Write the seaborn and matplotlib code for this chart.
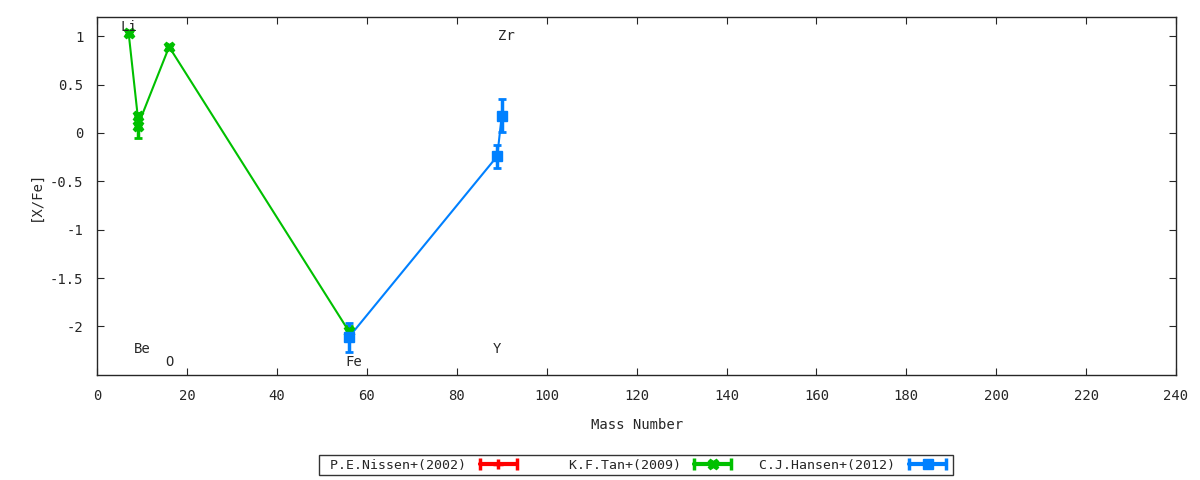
import seaborn as sns
import matplotlib.pyplot as plt
from matplotlib.lines import Line2D
from matplotlib.legend_handler import HandlerLine2D, HandlerTuple

# Tan+(2009)
tan_mass = [7, 9, 9, 16, 56]
tan_xfe = [1.03, 0.18, 0.07, 0.89, -2.05]
tan_err = [0.02, 0.03, 0.12, 0.02, 0.05]

# Hansen+(2012)
hansen_mass = [56, 89, 90]
hansen_xfe = [-2.11, -0.24, 0.18]
hansen_err = [0.15, 0.12, 0.17]

# Nissen+(2002) - nothing in range
nissen_mass = []
nissen_xfe = []

element_names = ["Li", "Be", "O", "Fe", "Y", "Zr"]
element_mass = [7, 10, 16, 57, 89, 91]
element_label_y = [1.09, -2.23, -2.37, -2.37, -2.23, 1.0]

legend_labels = [" P.E.Nissen+(2002)", "    K.F.Tan+(2009)", " C.J.Hansen+(2012)"]

RED, GREEN, BLUE = "#ff0000", "#00c000", "#0080ff"

sns.set_style("ticks")
plt.rcParams["font.family"] = ["DejaVu Sans Mono"]
plt.rcParams["font.size"] = 9.5

fig = plt.figure(figsize=(12, 4.8), dpi=100)
ax = fig.add_axes([0.081, 0.219, 0.899, 0.746])

sns.lineplot(x=tan_mass, y=tan_xfe, ax=ax, color=GREEN, lw=1.5,
             estimator=None, sort=False)
ax.errorbar(tan_mass, tan_xfe, yerr=tan_err, fmt="X", color=GREEN, ms=7.5,
            elinewidth=2.5, capsize=3, capthick=2)
sns.lineplot(x=hansen_mass, y=hansen_xfe, ax=ax, color=BLUE, lw=1.5,
             estimator=None, sort=False)
ax.errorbar(hansen_mass, hansen_xfe, yerr=hansen_err, fmt="s", color=BLUE, ms=7.5,
            elinewidth=2.5, capsize=3, capthick=2)

for name, m, ly in zip(element_names, element_mass, element_label_y):
    ax.text(m, ly, name, ha="center", va="center", fontsize=10)

ax.set_xlim(0, 240)
ax.set_ylim(-2.5, 1.2)
ax.set_xticks(range(0, 241, 20))
ax.set_yticks([-2, -1.5, -1, -0.5, 0, 0.5, 1])
ax.set_yticklabels(["-2", "-1.5", "-1", "-0.5", "0", "0.5", "1"])
ax.tick_params(direction="in", length=5, top=True, right=True, pad=10,
               labelsize=10)
for s in ax.spines.values():
    s.set_linewidth(1)
ax.set_xlabel("Mass Number", labelpad=11, fontsize=10)
ax.set_ylabel("[X/Fe]", labelpad=5, fontsize=10)

# gnuplot-style legend samples: bar with end caps and a centre marker
handles, hmap = [], {}
for col, mk in [(RED, "+"), (GREEN, "X"), (BLUE, "s")]:
    caps = Line2D([], [], color=col, lw=3, marker="|", ms=8, mew=2.5)
    mid = Line2D([], [], color=col, lw=0, marker=mk, ms=7.5, mew=2.5 if mk == "+" else 1)
    hmap[caps] = HandlerLine2D(numpoints=2)
    hmap[mid] = HandlerLine2D(numpoints=1)
    handles.append((caps, mid))
hmap[tuple] = HandlerTuple(ndivide=1)
leg = fig.legend(handles, legend_labels,
                 handler_map=hmap, loc="center", bbox_to_anchor=(0.53, 0.031),
                 ncol=3, markerfirst=False, frameon=True, fancybox=False,
                 edgecolor="black", handlelength=3.4, columnspacing=1.2,
                 borderpad=0.25, handletextpad=0.75, borderaxespad=0)
leg.get_frame().set_linewidth(1)

fig.savefig("out.png", dpi=100)
